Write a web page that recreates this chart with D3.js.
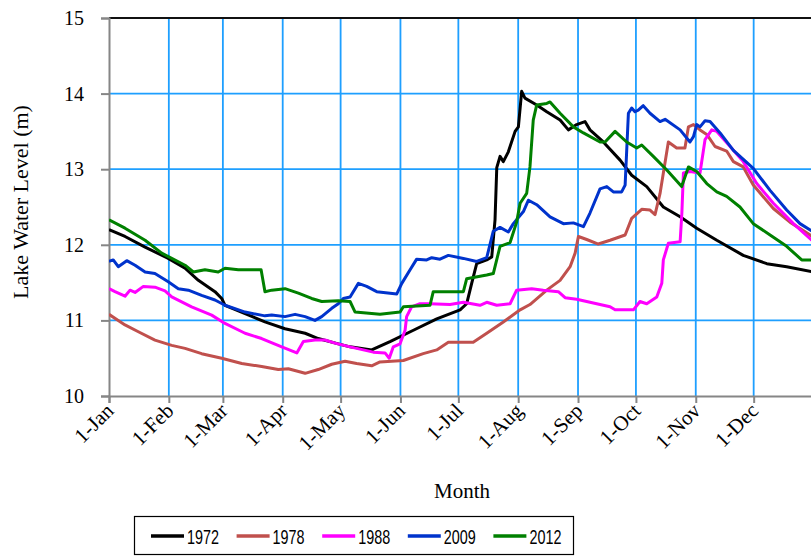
<!DOCTYPE html>
<html>
<head>
<meta charset="utf-8">
<script src="https://cdn.jsdelivr.net/npm/d3@7"></script>
<style>
  html, body { margin: 0; padding: 0; background: #fff; }
  svg { display: block; }
  .serif { font-family: "Liberation Serif", "Times New Roman", serif; fill: #000; }
  .legend-text { font-family: "Liberation Sans", Arial, sans-serif; fill: #000; }
</style>
</head>
<body>
<svg id="chart" width="811" height="556"></svg>
<script>
// Month ticks (day of year for the 1st of each month) and their labels
const monthDays = [0, 31, 59, 90, 120, 151, 181, 212, 243, 273, 304, 334];
const monthLabels = ["1-Jan", "1-Feb", "1-Mar", "1-Apr", "1-May", "1-Jun",
                     "1-Jul", "1-Aug", "1-Sep", "1-Oct", "1-Nov", "1-Dec"];
const levelTicks = [10, 11, 12, 13, 14, 15];

const years = ["1972", "1978", "1988", "2009", "2012"];
const yearColors = ["#000000", "#C0504D", "#FF00FF", "#0033CC", "#008000"];

// Lake water level (m) by day of year: [day, level]
const level1972 = [
  [0,12.20],[8.3,12.11],[18.7,11.97],[30.7,11.82],[39.4,11.69],[46.3,11.53],[54.9,11.38],
  [58.4,11.29],[60.1,11.20],[70.5,11.09],[80.8,10.98],[91.2,10.89],[101.6,10.83],[108.4,10.76],
  [118.8,10.69],[124.9,10.65],[136.1,10.61],[145.6,10.72],[157.7,10.87],[169.8,11.02],
  [181.9,11.14],[185.3,11.22],[187.9,11.49],[190.5,11.75],[195.7,11.80],[198.3,11.84],
  [200.0,12.33],[200.9,13.02],[202.6,13.17],[204.3,13.10],[206.9,13.23],[210.4,13.50],
  [212.1,13.56],[213.8,14.03],[215.5,13.94],[221.6,13.85],[226.8,13.76],[233.7,13.65],
  [238.0,13.52],[242.3,13.59],[246.6,13.63],[249.2,13.52],[256.1,13.36],[264.8,13.12],
  [270.8,12.92],[278.6,12.77],[287.2,12.50],[295.9,12.37],[304.5,12.22],[314.9,12.06],
  [328.6,11.86],[340.8,11.75],[351.1,11.71],[365,11.64]
];
const level1978 = [
  [0,11.08],[4.8,11.00],[8.3,10.94],[15.2,10.85],[23.8,10.74],[32.5,10.67],[39.4,10.63],
  [48.0,10.56],[58.4,10.50],[68.8,10.43],[79.1,10.39],[87.7,10.35],[92.9,10.36],[101.6,10.30],
  [108.4,10.35],[115.4,10.42],[122.3,10.46],[128.3,10.43],[136.1,10.40],[140.4,10.45],
  [152.5,10.47],[162.8,10.56],[169.8,10.61],[175.8,10.71],[188.7,10.71],[195.7,10.83],
  [204.3,10.98],[213.0,11.14],[218.1,11.21],[226.8,11.40],[233.7,11.53],[238.9,11.71],
  [241.5,11.89],[243.2,12.11],[247.5,12.07],[253.5,12.01],[259.6,12.06],[267.4,12.13],
  [270.8,12.35],[276.0,12.47],[280.3,12.46],[282.9,12.40],[285.5,12.68],[289.8,13.36],
  [294.1,13.28],[298.4,13.28],[300.2,13.56],[302.8,13.59],[306.2,13.52],[309.7,13.46],
  [314.0,13.30],[320.0,13.24],[323.5,13.10],[328.6,13.03],[333.8,12.79],[344.2,12.48],
  [352.8,12.30],[365,12.10]
];
const level1988 = [
  [0,11.42],[3.1,11.38],[8.3,11.32],[10.9,11.40],[13.5,11.37],[17.8,11.45],[23.8,11.44],
  [29.0,11.39],[32.5,11.31],[42.8,11.18],[53.2,11.07],[60.1,10.96],[70.5,10.83],[79.1,10.76],
  [89.5,10.65],[97.3,10.57],[100.7,10.72],[106.7,10.74],[111.9,10.74],[117.1,10.70],
  [124.9,10.65],[136.9,10.58],[143.0,10.57],[145.2,10.50],[147.3,10.65],[150.8,10.69],
  [153.4,10.87],[154.2,11.05],[156.8,11.18],[161.1,11.22],[166.3,11.22],[176.7,11.21],
  [183.6,11.24],[192.2,11.20],[195.7,11.24],[200.9,11.20],[207.8,11.22],[211.2,11.40],
  [219.0,11.42],[225.0,11.40],[232.8,11.38],[236.3,11.30],[242.3,11.28],[249.2,11.24],
  [259.6,11.18],[262.2,11.14],[271.7,11.14],[275.1,11.25],[278.6,11.22],[283.8,11.31],
  [286.4,11.49],[287.2,11.80],[289.8,12.02],[295.9,12.04],[296.8,12.42],[297.6,12.95],
  [301.0,12.97],[306.2,12.95],[308.8,13.39],[312.3,13.52],[314.9,13.50],[321.8,13.30],
  [328.6,13.10],[335.6,12.81],[344.2,12.55],[354.6,12.28],[365,12.04]
];
const level2009 = [
  [0,11.78],[2.2,11.80],[4.8,11.71],[9.2,11.79],[13.5,11.73],[18.7,11.64],[23.8,11.62],
  [30.7,11.51],[35.9,11.42],[41.1,11.40],[48.0,11.33],[54.9,11.27],[60.1,11.20],[70.5,11.11],
  [80.8,11.06],[84.3,11.07],[91.2,11.05],[96.4,11.08],[101.6,11.05],[106.7,11.00],
  [110.2,11.05],[115.4,11.16],[118.8,11.22],[121.4,11.29],[124.9,11.31],[129.2,11.49],
  [133.5,11.45],[138.7,11.38],[149.1,11.35],[151.7,11.49],[156.0,11.67],[159.4,11.81],
  [164.6,11.80],[167.2,11.83],[171.5,11.81],[175.8,11.86],[183.6,11.82],[190.5,11.78],
  [195.7,11.83],[199.1,12.18],[202.6,12.23],[206.9,12.17],[209.5,12.28],[214.7,12.44],
  [217.3,12.59],[221.6,12.53],[228.5,12.37],[235.4,12.28],[240.6,12.29],[245.8,12.24],
  [249.2,12.42],[254.4,12.74],[257.9,12.77],[261.3,12.70],[265.6,12.70],[267.4,12.79],
  [269.1,13.74],[270.8,13.81],[272.5,13.76],[274.2,13.78],[276.8,13.84],[280.3,13.74],
  [285.5,13.63],[288.1,13.66],[295.9,13.52],[301.0,13.36],[302.8,13.43],[304.5,13.59],
  [306.2,13.56],[308.8,13.64],[311.4,13.63],[316.6,13.48],[323.5,13.25],[333.8,13.01],
  [342.5,12.72],[351.1,12.46],[358.0,12.28],[365,12.17]
];
const level2012 = [
  [0,12.33],[8.3,12.22],[18.7,12.06],[27.3,11.89],[32.5,11.82],[39.4,11.73],[43.7,11.64],
  [49.7,11.67],[56.6,11.64],[60.1,11.69],[67.0,11.67],[78.8,11.67],[80.8,11.38],[84.3,11.40],
  [91.2,11.42],[98.1,11.36],[105.0,11.29],[110.2,11.25],[118.8,11.26],[124.9,11.25],
  [127.5,11.11],[140.4,11.08],[150.8,11.11],[152.5,11.18],[166.3,11.20],[168.0,11.38],
  [183.6,11.38],[185.3,11.55],[195.7,11.60],[199.1,11.62],[202.6,11.98],[207.8,12.03],
  [211.2,12.30],[213.0,12.55],[216.4,12.68],[218.1,13.03],[219.8,13.65],[221.6,13.85],
  [226.8,13.87],[228.5,13.89],[233.7,13.74],[240.6,13.56],[245.8,13.48],[254.4,13.36],
  [257.0,13.36],[262.2,13.50],[268.2,13.36],[273.4,13.28],[276.0,13.32],[282.0,13.17],
  [289.0,12.99],[296.7,12.77],[300.2,13.03],[304.5,12.97],[309.7,12.81],[314.9,12.70],
  [320.0,12.64],[326.9,12.50],[333.8,12.28],[342.5,12.13],[351.1,11.98],[358.9,11.80],
  [365,11.80]
];
const seriesLevels = [level1972, level1978, level1988, level2009, level2012];

const svg = d3.select("#chart");
const gridColor = "#1E9FFF";
const axisColor = "#868686";

const plotLeft = 109, plotTop = 18, plotBottom = 396, plotRight = 813.5;
const x = d3.scaleLinear().domain([0, 365]).range([plotLeft, plotRight]);
const y = d3.scaleLinear().domain([10, 15]).range([plotBottom, plotTop]);

svg.append("defs").append("clipPath").attr("id", "plotClip")
  .append("rect").attr("x", plotLeft).attr("y", plotTop - 2)
  .attr("width", plotRight - plotLeft).attr("height", plotBottom - plotTop + 4);

// Grid lines
const grid = svg.append("g");
grid.selectAll("line.v").data(monthDays.slice(1)).join("line")
  .attr("x1", d => x(d)).attr("x2", d => x(d))
  .attr("y1", y(15)).attr("y2", y(10))
  .attr("stroke", gridColor).attr("stroke-width", 1.8);
grid.selectAll("line.h").data(levelTicks.filter(v => v > 10 && v < 15)).join("line")
  .attr("x1", plotLeft).attr("x2", 811)
  .attr("y1", d => y(d)).attr("y2", d => y(d))
  .attr("stroke", gridColor).attr("stroke-width", 1.8);
grid.append("line")
  .attr("x1", plotLeft).attr("x2", 811).attr("y1", y(15)).attr("y2", y(15))
  .attr("stroke", "#111").attr("stroke-width", 2);

// Axes
const yAxis = svg.append("g").attr("transform", `translate(${plotLeft},0)`)
  .call(d3.axisLeft(y).tickValues(levelTicks).tickFormat(d3.format("d"))
    .tickSize(8).tickPadding(17));
const xAxis = svg.append("g").attr("transform", `translate(0,${plotBottom})`)
  .call(d3.axisBottom(x).tickValues(monthDays).tickSize(7).tickFormat(""));
[yAxis, xAxis].forEach(g => {
  g.select(".domain").attr("stroke", axisColor).attr("stroke-width", 2);
  g.selectAll(".tick line").attr("stroke", axisColor).attr("stroke-width", 2);
});
yAxis.attr("font-family", null).attr("font-size", null);
yAxis.selectAll(".tick text")
  .attr("class", "serif").style("font-size", "20px");

// Rotated month labels
svg.append("g").selectAll("text").data(monthDays).join("text")
  .attr("class", "serif")
  .attr("transform", d => `translate(${x(d) + 6},${plotBottom + 16}) rotate(-45)`)
  .attr("text-anchor", "end")
  .style("font-size", "21px")
  .text((d, i) => monthLabels[i]);

// Series lines
const line = d3.line().x(d => x(d[0])).y(d => y(d[1]));
svg.append("g").attr("clip-path", "url(#plotClip)")
  .selectAll("path").data(seriesLevels).join("path")
  .attr("d", line)
  .attr("fill", "none")
  .attr("stroke", (d, i) => yearColors[i])
  .attr("stroke-width", 3)
  .attr("stroke-linejoin", "round");

// Axis titles
svg.append("text")
  .attr("class", "serif")
  .attr("transform", "translate(28,202) rotate(-90)")
  .attr("text-anchor", "middle")
  .style("font-size", "22px")
  .text("Lake Water Level (m)");
svg.append("text")
  .attr("class", "serif")
  .attr("x", 462).attr("y", 498)
  .attr("text-anchor", "middle")
  .style("font-size", "21px")
  .text("Month");

// Legend
const legend = svg.append("g");
legend.append("rect")
  .attr("x", 134.5).attr("y", 516.5).attr("width", 439).attr("height", 38)
  .attr("fill", "#fff").attr("stroke", "#000").attr("stroke-width", 1.2);
const item = legend.selectAll("g.item").data(years).join("g")
  .attr("transform", (d, i) => `translate(${151 + i * 85.6},536)`);
item.append("line")
  .attr("x1", 0).attr("x2", 33).attr("y1", 0).attr("y2", 0)
  .attr("stroke", (d, i) => yearColors[i]).attr("stroke-width", 3.5);
item.append("text")
  .attr("class", "legend-text")
  .attr("x", 36).attr("y", 0).attr("dy", "0.36em")
  .attr("textLength", 32).attr("lengthAdjust", "spacingAndGlyphs")
  .style("font-size", "21px")
  .text(d => d);
</script>
</body>
</html>
